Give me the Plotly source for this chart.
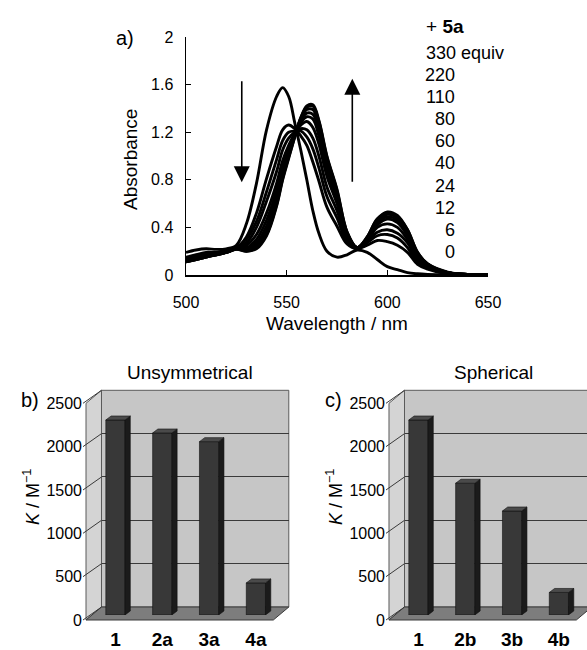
import plotly.graph_objects as go

W, H = 587, 650

# ---------------- data: UV-vis titration (panel a) ----------------
wavelength = [500, 505, 510, 515, 520, 525, 530, 535, 540, 545, 548, 551, 554, 557, 560,
              563, 566, 570, 575, 580, 585, 590, 595, 600, 605, 610, 615, 620, 630, 640, 650]
abs_0 = [.19, .21, .22, .215, .22, .25, .43, .77, 1.22, 1.50, 1.575, 1.50, 1.28, 1.05, .80,
         .54, .35, .20, .15, .17, .21, .19, .13, .07, .045, .02, .01, .005, 0, 0, 0]
abs_6 = [.15, .17, .19, .19, .21, .23, .32, .52, .81, 1.08, 1.22, 1.26, 1.23, 1.17, 1.09,
         .95, .79, .57, .41, .26, .22, .25, .29, .28, .25, .19, .09, .05, .01, .002, 0]
abs_12 = [.14, .16, .18, .19, .20, .23, .30, .45, .70, .97, 1.13, 1.20, 1.21, 1.21, 1.16,
          1.06, .90, .66, .48, .28, .22, .27, .33, .34, .31, .23, .11, .06, .01, .003, 0]
abs_24 = [.14, .16, .17, .18, .20, .23, .27, .40, .62, .87, 1.05, 1.15, 1.20, 1.23, 1.22,
          1.15, 1.00, .74, .54, .30, .22, .28, .36, .38, .35, .27, .13, .07, .02, .003, 0]
abs_40 = [.13, .15, .17, .18, .20, .22, .25, .34, .52, .77, .96, 1.09, 1.19, 1.26, 1.29,
          1.24, 1.10, .83, .60, .32, .23, .29, .40, .43, .40, .30, .15, .08, .02, .004, 0]
abs_60 = [.12, .14, .16, .18, .19, .22, .23, .30, .46, .71, .91, 1.05, 1.18, 1.28, 1.33,
          1.31, 1.17, .89, .64, .33, .23, .30, .42, .47, .44, .33, .17, .08, .02, .004, 0]
abs_80 = [.12, .14, .16, .17, .19, .22, .22, .27, .41, .66, .87, 1.03, 1.17, 1.30, 1.36,
          1.35, 1.22, .93, .67, .34, .23, .31, .44, .49, .46, .35, .17, .09, .02, .005, 0]
abs_110 = [.11, .13, .15, .17, .19, .22, .21, .25, .37, .63, .84, 1.01, 1.17, 1.31, 1.39,
           1.39, 1.25, .96, .69, .35, .23, .31, .45, .51, .48, .36, .18, .09, .02, .005, 0]
abs_220 = [.11, .13, .15, .17, .19, .22, .20, .23, .34, .59, .81, .99, 1.16, 1.32, 1.41,
           1.42, 1.29, .99, .71, .36, .23, .32, .47, .52, .49, .38, .19, .09, .02, .005, 0]
abs_330 = [.11, .13, .15, .17, .19, .215, .20, .22, .33, .58, .80, .98, 1.16, 1.32, 1.42,
           1.43, 1.30, 1.00, .72, .36, .23, .32, .47, .53, .50, .38, .19, .095, .025, .005, 0]
equiv_labels = ["330 equiv", "220", "110", "80", "60", "40", "24", "12", "6", "0"]
wl_ticks = [500, 550, 600, 650]
abs_ticks = [0, 0.4, 0.8, 1.2, 1.6, 2]
abs_ticktext = ["0", "0.4", "0.8", "1.2", "1.6", "2"]

# ---------------- data: binding constants (panels b, c) ----------------
categories_b = ["1", "2a", "3a", "4a"]
K_b = [2250, 2100, 2000, 370]
categories_c = ["1", "2b", "3b", "4b"]
K_c = [2250, 1520, 1200, 260]
K_ticks = [0, 500, 1000, 1500, 2000, 2500]

FONT = "Arial, Liberation Sans, Helvetica, sans-serif"


def fx(px):
    return px / W


def fy(py):
    return 1 - py / H


fig = go.Figure()

# ---------------- panel a ----------------
for s in [abs_0, abs_6, abs_12, abs_24, abs_40, abs_60, abs_80, abs_110, abs_220, abs_330]:
    fig.add_trace(go.Scatter(x=wavelength, y=s, mode="lines", xaxis="x", yaxis="y",
                             line=dict(color="black", width=2.9, shape="spline", smoothing=1.0),
                             showlegend=False, hoverinfo="skip"))

layout = dict(
    width=W, height=H, margin=dict(l=0, r=0, t=0, b=0, pad=0, autoexpand=False),
    autosize=False,
    paper_bgcolor="white", plot_bgcolor="rgba(0,0,0,0)",
    font=dict(family=FONT, color="black", size=16),
    showlegend=False,
    xaxis=dict(domain=[fx(186), fx(488)], range=[500, 650], tickvals=wl_ticks,
               ticks="inside", ticklen=5, tickcolor="black", showline=True, linecolor="black",
               linewidth=1.5, showgrid=False, zeroline=False, anchor="y", automargin=False,
               tickfont=dict(size=16), ticklabelstandoff=12),
    yaxis=dict(domain=[fy(275), fy(37)], range=[0, 2], tickvals=abs_ticks, ticktext=abs_ticktext,
               ticks="inside", ticklen=5, tickcolor="black", showline=True, linecolor="black",
               linewidth=1.5, showgrid=False, zeroline=False, anchor="x", automargin=False,
               tickfont=dict(size=16), ticklabelstandoff=8),
)

annotations = []
shapes = []


def ann(text, px, py, size=16, xanchor="center", yanchor="middle", angle=0, **kw):
    annotations.append(dict(text=text, x=fx(px), y=fy(py), xref="paper", yref="paper",
                            showarrow=False, xanchor=xanchor, yanchor=yanchor,
                            textangle=angle, font=dict(size=size, family=FONT, color="black"), **kw))


ann("a)", 125, 38, size=20)
ann("Absorbance", 130, 160, size=19, angle=-90)
ann("Wavelength / nm", 337, 323, size=19)
ann("+ <b>5a</b>", 424, 26, size=19, xanchor="left")
label_y = [53, 75, 97, 119, 141, 163, 186, 208, 230, 252]
for lab, yy in zip(equiv_labels, label_y):
    if lab.endswith("equiv"):
        ann(lab, 424, yy, size=18, xanchor="left")
    else:
        ann(lab, 457, yy, size=18, xanchor="right")

# arrows
annotations.append(dict(x=527.7, y=0.78, ax=527.7, ay=1.64, xref="x", yref="y", axref="x", ayref="y",
                        text="", showarrow=True, arrowhead=2, arrowsize=2.0, arrowwidth=1.6,
                        arrowcolor="black"))
annotations.append(dict(x=582.6, y=1.65, ax=582.6, ay=0.77, xref="x", yref="y", axref="x", ayref="y",
                        text="", showarrow=True, arrowhead=2, arrowsize=2.0, arrowwidth=1.6,
                        arrowcolor="black"))

# ---------------- panels b, c (pseudo-3D bar charts) ----------------
TOP_F, BOT_F, WIDTH = 403.3, 620.0, 187.3
BACK_DX, BACK_DY = 15.5, -13.0
BAR_DX, BAR_DY = 6.0, -5.0
DEPTH_DX, DEPTH_DY = 5.3, -4.0
BAR_W = 0.41
KMAX = 2500.0
PX_PER_K = (BOT_F - TOP_F) / KMAX
PX_PER_CAT = WIDTH / 4.0


def bar_panel(n0, fl, cats, vals, letter, title):
    back, bar, front = n0, n0 + 1, n0 + 2
    # back plane (gridlines)
    layout[f"xaxis{back}"] = dict(domain=[fx(fl + BACK_DX), min(1.0, fx(fl + BACK_DX + WIDTH))],
                                  range=[0, 1], showticklabels=False, ticks="", showgrid=False,
                                  zeroline=False, showline=False, automargin=False, anchor=f"y{back}")
    layout[f"yaxis{back}"] = dict(domain=[fy(BOT_F + BACK_DY), fy(TOP_F + BACK_DY)], range=[0, KMAX],
                                  tickvals=K_ticks, showticklabels=False, ticks="", showgrid=True,
                                  gridcolor="#3a3a3a", gridwidth=1, zeroline=False, showline=False,
                                  automargin=False, anchor=f"x{back}")
    # bar plane
    layout[f"xaxis{bar}"] = dict(domain=[fx(fl + BAR_DX), fx(fl + BAR_DX + WIDTH)], range=[-0.5, 3.5],
                                 tickvals=[0, 1, 2, 3], ticktext=[f"<b>{c}</b>" for c in cats],
                                 ticks="", showgrid=False, zeroline=False, showline=False,
                                 tickfont=dict(size=19), ticklabelstandoff=11, automargin=False,
                                 anchor=f"y{bar}")
    layout[f"yaxis{bar}"] = dict(domain=[fy(BOT_F + BAR_DY), fy(TOP_F + BAR_DY)], range=[0, KMAX],
                                 showticklabels=False, ticks="", showgrid=False, zeroline=False,
                                 showline=False, automargin=False, anchor=f"x{bar}")
    # front plane (tick labels)
    layout[f"xaxis{front}"] = dict(domain=[fx(fl), fx(fl + WIDTH)], range=[0, 1], showticklabels=False,
                                   ticks="", showgrid=False, zeroline=False, showline=False,
                                   automargin=False, anchor=f"y{front}")
    layout[f"yaxis{front}"] = dict(domain=[fy(BOT_F), fy(TOP_F)], range=[0, KMAX], tickvals=K_ticks,
                                   ticks="", showgrid=False, zeroline=False, showline=False,
                                   showticklabels=True, tickfont=dict(size=16), ticklabelstandoff=3,
                                   automargin=False, anchor=f"x{front}")

    # invisible helper traces so every plane exists as a subplot
    fig.add_trace(go.Scatter(x=[0, 1], y=[0, KMAX], mode="lines", line=dict(width=0),
                             xaxis=f"x{back}", yaxis=f"y{back}", showlegend=False, hoverinfo="skip"))

    xs = list(range(len(cats)))
    fig.add_trace(go.Bar(x=xs, y=vals, width=BAR_W, xaxis=f"x{bar}", yaxis=f"y{bar}",
                         marker=dict(color="#383838", line=dict(color="#111111", width=0.6)),
                         showlegend=False, hoverinfo="skip"))
    ddx = DEPTH_DX / PX_PER_CAT
    ddy = -DEPTH_DY / PX_PER_K
    sx, sy, tx, ty = [], [], [], []
    for i, v in zip(xs, vals):
        xl, xr = i - BAR_W / 2, i + BAR_W / 2
        sx += [xr, xr + ddx, xr + ddx, xr, xr, None]
        sy += [0, ddy, v + ddy, v, 0, None]
        tx += [xl, xr, xr + ddx, xl + ddx, xl, None]
        ty += [v, v, v + ddy, v + ddy, v, None]
    fig.add_trace(go.Scatter(x=sx, y=sy, mode="lines", fill="toself", fillcolor="#1b1b1b",
                             line=dict(color="#111111", width=0.6), xaxis=f"x{bar}", yaxis=f"y{bar}",
                             showlegend=False, hoverinfo="skip", cliponaxis=False))
    fig.add_trace(go.Scatter(x=tx, y=ty, mode="lines", fill="toself", fillcolor="#4a4a4a",
                             line=dict(color="#111111", width=0.6), xaxis=f"x{bar}", yaxis=f"y{bar}",
                             showlegend=False, hoverinfo="skip", cliponaxis=False))
    fig.add_trace(go.Scatter(x=[0, 1], y=[0, KMAX], mode="lines", line=dict(width=0),
                             xaxis=f"x{front}", yaxis=f"y{front}", showlegend=False, hoverinfo="skip"))

    # walls & floor (decoration)
    def P(px, py):
        return f"{fx(px):.5f},{fy(py):.5f}"

    bl = fl + BACK_DX
    shapes.append(dict(type="rect", xref="paper", yref="paper", x0=fx(bl), x1=fx(bl + WIDTH),
                       y0=fy(BOT_F + BACK_DY), y1=fy(TOP_F + BACK_DY), fillcolor="#c6c6c6",
                       line=dict(color="#5a5a5a", width=1), layer="below"))
    shapes.append(dict(type="path", xref="paper", yref="paper", layer="below",
                       path=f"M{P(fl, BOT_F)} L{P(fl, TOP_F)} L{P(bl, TOP_F + BACK_DY)} "
                            f"L{P(bl, BOT_F + BACK_DY)} Z",
                       fillcolor="#d4d4d4", line=dict(color="#5a5a5a", width=1)))
    shapes.append(dict(type="path", xref="paper", yref="paper", layer="below",
                       path=f"M{P(fl, BOT_F)} L{P(fl + WIDTH, BOT_F)} L{P(bl + WIDTH, BOT_F + BACK_DY)} "
                            f"L{P(bl, BOT_F + BACK_DY)} Z",
                       fillcolor="#7d7d7d", line=dict(color="#3a3a3a", width=1)))
    for v in K_ticks:
        yf = BOT_F - v * PX_PER_K
        shapes.append(dict(type="line", xref="paper", yref="paper", layer="below",
                           x0=fx(fl - 3), y0=fy(yf), x1=fx(bl), y1=fy(yf + BACK_DY),
                           line=dict(color="#3a3a3a", width=1)))

    ann(letter, fl - 56, 400, size=20)
    ann("<i>K</i> / M<sup>−1</sup>", fl - 55, 497, size=18, angle=-90)
    ann(title, fl + 104, 372, size=19)


bar_panel(2, 86.0, categories_b, K_b, "b)", "Unsymmetrical")
bar_panel(5, 389.0, categories_c, K_c, "c)", "Spherical")

layout["annotations"] = annotations
layout["shapes"] = shapes
fig.update_layout(**layout)
fig.write_html("out.html",
               config={"displayModeBar": False, "staticPlot": True, "responsive": False},
               post_script="document.body.style.margin='0px';document.body.style.padding='0px';"
                           "document.body.style.overflow='hidden';")
